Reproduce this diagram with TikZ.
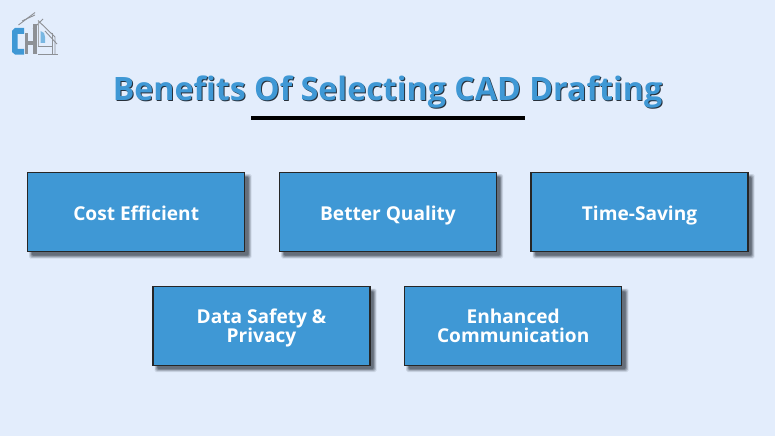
\documentclass[tikz,border=0pt]{standalone}
\usepackage{fontspec}
\setmainfont{Open Sans}
\definecolor{bgc}{HTML}{E3EDFC}
\definecolor{boxc}{HTML}{3F98D5}
\definecolor{grayc}{HTML}{8E9196}
\definecolor{shc}{HTML}{27303A}
\newcommand{\softshadow}[4]{%
  \foreach \g/\o in {2.5/0.10,1.8/0.14,1.1/0.18,0.4/0.24,-0.3/0.3}{
    \fill[shc,opacity=\o,rounded corners=1.5pt] (#1+4-\g,#2+4-\g) rectangle (#3+4+\g,#4+4+\g);
  }}
\newcommand{\onestrut}{\rule[-6pt]{0pt}{28pt}}
\newcommand{\topstrut}{\rule[-6pt]{0pt}{26pt}}
\tikzset{
  x=1pt,y=-1pt,
  boxnode/.style={draw=black!85,line width=1.1pt,fill=boxc,minimum width=217pt,minimum height=79pt,inner sep=0pt,align=center,
     text=white,font=\fontsize{19.1}{20}\selectfont\bfseries},
  logog/.style={draw=grayc,line width=0.9pt},
}
\begin{document}
\begin{tikzpicture}
\useasboundingbox (0,0) rectangle (775,436);
\fill[bgc] (0,0) rectangle (775,436);
% logo
\draw[logog] (18.5,25) -- (35,12.5);
\draw[logog] (22,21) -- (35,15);
\draw[logog] (33,29) -- (43,19);
\draw[logog] (38,20.5) -- (55,37) -- (55,54);
\draw[logog] (45,31) -- (57,44);
\draw[logog] (52,33) -- (52,54);
\draw[logog] (38,46) -- (52,46);
\draw[logog] (38,54) -- (58,54);
\fill[grayc] (25,33) rectangle (28,54);
\fill[grayc] (33,24) rectangle (36.5,54);
\fill[grayc] (28,41) rectangle (33,45);
\fill[grayc!80] (38,21) rectangle (39,46);
\fill[boxc!70] (40.5,31) -- (44,33) -- (45,37) -- (45,43) -- (40.5,43) -- cycle;
\fill[boxc] (24,28) -- (15,28) -- (12,31) -- (12,52) -- (15,54.5) -- (24,54.5) -- (24,49) -- (17.5,49) -- (17.5,34) -- (24,34) -- cycle;
% title
\node[text=shc,font=\fontsize{32.2}{36}\selectfont\bfseries,inner sep=0pt] at (388.5,93.2) {Benefits Of Selecting CAD Drafting};
\node[text=boxc,font=\fontsize{32.2}{36}\selectfont\bfseries,inner sep=0pt] (title) at (387.5,92) {Benefits Of Selecting CAD Drafting};
\fill[black] (251,116) rectangle (524.5,119.5);
% shadows
\softshadow{27.5}{172.5}{245}{252}
\softshadow{279.5}{172.5}{496.5}{252}
\softshadow{531}{172.5}{748}{252}
\softshadow{153}{287}{370}{365.5}
\softshadow{404.5}{287}{622}{365.5}
% boxes
\node[boxnode] (b1) at (136.2,212.2) {\onestrut Cost Efficient};
\node[boxnode] (b2) at (388,212.2) {\onestrut Better Quality};
\node[boxnode] (b3) at (639.5,212.2) {\onestrut Time-Saving};
\node[boxnode] (b4) at (261.5,326.2) {\topstrut Data Safety \&\\[-2pt]\strut Privacy};
\node[boxnode] (b5) at (513.2,326.2) {\topstrut Enhanced\\[-2pt]\strut Communication};
\end{tikzpicture}
\end{document}
